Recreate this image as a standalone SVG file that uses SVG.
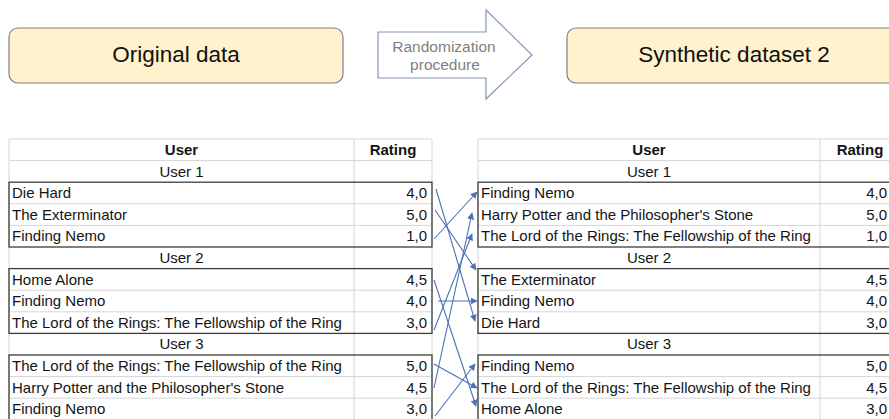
<svg xmlns="http://www.w3.org/2000/svg" width="889" height="419" viewBox="0 0 889 419">
<defs>
<style>
.t{font-family:"Liberation Sans",Arial,sans-serif;font-size:15px;fill:#141414}
.b{font-weight:bold}
.m{text-anchor:middle}
.r{text-anchor:end}
.title{font-family:"Liberation Sans",Arial,sans-serif;font-size:22.5px;fill:#111;text-anchor:middle}
.proc{font-family:"Liberation Sans",Arial,sans-serif;font-size:15.5px;fill:#7f7f7f;text-anchor:middle}
.grid{fill:none;stroke:#d6d6d6;stroke-width:1}
.grp{fill:none;stroke:#3c3c3c;stroke-width:1.3}
.box{fill:#fff2cc;stroke:#7f7f7f;stroke-width:1.2}
.con{fill:none;stroke:#4a72b8;stroke-width:1.1;marker-end:url(#ah)}
</style>
<marker id="ah" viewBox="0 0 10 10" refX="9" refY="5" markerWidth="7" markerHeight="7" markerUnits="userSpaceOnUse" orient="auto">
<path d="M0 0L10 5L0 10Z" fill="#4a72b8"/>
</marker>
</defs>
<rect width="889" height="419" fill="#ffffff"/>

<g id="original-data">
<rect class="box" x="9" y="28" width="334" height="55" rx="9"/>
<text class="title" x="176" y="62">Original data</text>
</g>

<g id="randomization-procedure">
<path d="M378 32H486V10L532 55L486 99V78H378Z" fill="#ffffff" stroke="#8296b8" stroke-width="1.2"/>
<text class="proc" x="444" y="52">Randomization</text>
<text class="proc" x="445" y="70">procedure</text>
</g>

<g id="synthetic-dataset-2">
<rect class="box" x="567" y="28" width="334" height="55" rx="9"/>
<text class="title" x="734" y="62">Synthetic dataset 2</text>
</g>

<g id="table-original">
<path class="grid" d="M9 139H432M9 160.6H432M9 203.8H432M9 225.4H432M9 290.2H432M9 311.8H432M9 376.6H432M9 398.2H432M9 139V419M354 139V419M432 139V419"/>
<rect class="grp" x="9" y="182.2" width="423" height="64.8"/>
<rect class="grp" x="9" y="268.6" width="423" height="64.8"/>
<rect class="grp" x="9" y="355" width="423" height="64.8"/>
<text class="t b m" x="181.5" y="155">User</text>
<text class="t b m" x="393" y="155">Rating</text>
<text class="t m" x="181.5" y="176.6">User 1</text>
<text class="t" x="12" y="198.2">Die Hard</text><text class="t r" x="427" y="198.2">4,0</text>
<text class="t" x="12" y="219.8">The Exterminator</text><text class="t r" x="427" y="219.8">5,0</text>
<text class="t" x="12" y="241.4">Finding Nemo</text><text class="t r" x="427" y="241.4">1,0</text>
<text class="t m" x="181.5" y="263">User 2</text>
<text class="t" x="12" y="284.6">Home Alone</text><text class="t r" x="427" y="284.6">4,5</text>
<text class="t" x="12" y="306.2">Finding Nemo</text><text class="t r" x="427" y="306.2">4,0</text>
<text class="t" x="12" y="327.8">The Lord of the Rings: The Fellowship of the Ring</text><text class="t r" x="427" y="327.8">3,0</text>
<text class="t m" x="181.5" y="349.4">User 3</text>
<text class="t" x="12" y="371">The Lord of the Rings: The Fellowship of the Ring</text><text class="t r" x="427" y="371">5,0</text>
<text class="t" x="12" y="392.6">Harry Potter and the Philosopher's Stone</text><text class="t r" x="427" y="392.6">4,5</text>
<text class="t" x="12" y="414.2">Finding Nemo</text><text class="t r" x="427" y="414.2">3,0</text>
</g>

<g id="table-synthetic">
<path class="grid" d="M478 139H900M478 160.6H900M478 203.8H900M478 225.4H900M478 290.2H900M478 311.8H900M478 376.6H900M478 398.2H900M478 139V419M820 139V419"/>
<rect class="grp" x="478" y="182.2" width="422" height="64.8"/>
<rect class="grp" x="478" y="268.6" width="422" height="64.8"/>
<rect class="grp" x="478" y="355" width="422" height="64.8"/>
<text class="t b m" x="649" y="155">User</text>
<text class="t b m" x="860" y="155">Rating</text>
<text class="t m" x="649" y="176.6">User 1</text>
<text class="t" x="481" y="198.2">Finding Nemo</text><text class="t r" x="887" y="198.2">4,0</text>
<text class="t" x="481" y="219.8">Harry Potter and the Philosopher's Stone</text><text class="t r" x="887" y="219.8">5,0</text>
<text class="t" x="481" y="241.4">The Lord of the Rings: The Fellowship of the Ring</text><text class="t r" x="887" y="241.4">1,0</text>
<text class="t m" x="649" y="263">User 2</text>
<text class="t" x="481" y="284.6">The Exterminator</text><text class="t r" x="887" y="284.6">4,5</text>
<text class="t" x="481" y="306.2">Finding Nemo</text><text class="t r" x="887" y="306.2">4,0</text>
<text class="t" x="481" y="327.8">Die Hard</text><text class="t r" x="887" y="327.8">3,0</text>
<text class="t m" x="649" y="349.4">User 3</text>
<text class="t" x="481" y="371">Finding Nemo</text><text class="t r" x="887" y="371">5,0</text>
<text class="t" x="481" y="392.6">The Lord of the Rings: The Fellowship of the Ring</text><text class="t r" x="887" y="392.6">4,5</text>
<text class="t" x="481" y="414.2">Home Alone</text><text class="t r" x="887" y="414.2">3,0</text>
</g>

<g id="connectors">
<path class="con" d="M436 189L475 321"/>
<path class="con" d="M435 210L476 270"/>
<path class="con" d="M434 239L477 192"/>
<path class="con" d="M434 280L476 406"/>
<path class="con" d="M438 301L477 301"/>
<path class="con" d="M434 330L472 234"/>
<path class="con" d="M434 364L477 388"/>
<path class="con" d="M434 388L472 213"/>
<path class="con" d="M435 416L475 364"/>
</g>
</svg>
